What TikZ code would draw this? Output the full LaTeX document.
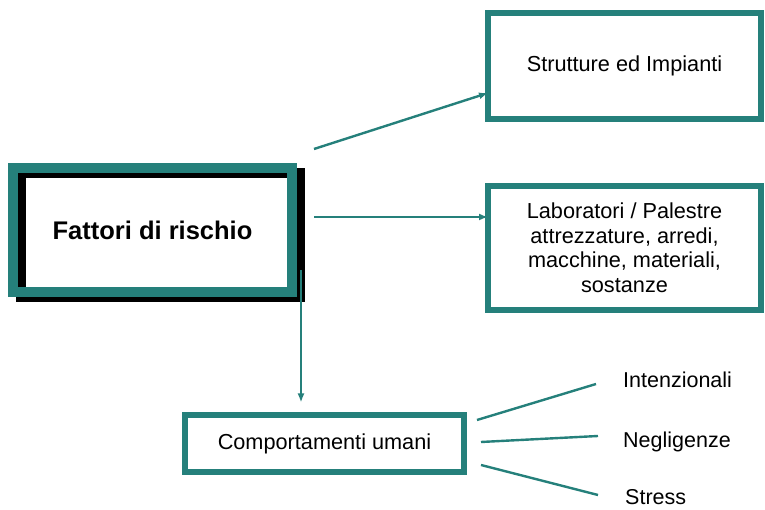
\documentclass[tikz,border=0pt]{standalone}
\usepackage{fontspec}
\setmainfont{Liberation Sans}
\usetikzlibrary{arrows.meta,positioning}
\definecolor{rischio}{RGB}{37,128,123}
\tikzset{
  box/.style={draw=rischio, line width=6pt, outer sep=0pt, inner sep=0pt,
    align=center, font=\fontsize{21.7}{24.5}\selectfont},
  label/.style={anchor=west, inner sep=0pt, font=\fontsize{21.5}{24}\selectfont},
  link/.style={rischio, line width=2.4pt},
  arrow/.style={link, -{Latex[length=9pt,width=7pt]}},
}
\begin{document}
\begin{tikzpicture}[x=1pt, y=1pt]
\useasboundingbox (0,0) rectangle (765,510);
%\draw[help lines, step=50] (0,0) grid (765,510);
\node [box, draw=none, minimum width=279pt, minimum height=124pt,
  font=\fontsize{25.5}{30}\selectfont\bfseries] (fattori) at (152.5,280) {Fattori di rischio};
\draw [line width=10pt] ([shift={(8,-5)}]fattori.north west)
  rectangle ([shift={(8,-5)}]fattori.south east);
\draw [rischio, line width=10pt] (fattori.north west) rectangle (fattori.south east);

\node [box, minimum width=273pt, minimum height=106pt] (strutture) at (624.5,444)
  {Strutture ed Impianti};
\node [box, minimum width=273pt, minimum height=124pt] (lab) at (624.5,262)
  {Laboratori / Palestre\\attrezzature, arredi,\\macchine, materiali,\\sostanze};
\node [box, minimum width=279pt, minimum height=57pt] (comport) at (324.5,66.5)
  {Comportamenti umani};

\node [label] (intenz) at (623,130) {Intenzionali};
\node [label] (neglig) at (623,68) {Negligenze};
\node [label] (stress) at (625,13) {Stress};

\coordinate (a1) at ([shift={(22,19)}]fattori.north east);
\coordinate (a2) at ([shift={(22,13)}]fattori.east);
\coordinate (a3) at ([shift={(9,22)}]fattori.south east);
\draw [arrow] (a1) -- ([yshift=-27pt]strutture.west);
\draw [arrow] (a2) -- (lab.west |- a2);
\draw [arrow, shorten >=12.5pt] (a3) -- (comport.north -| a3);

\draw [link] ([shift={(13,23.5)}]comport.east) -- ([shift={(-27,-4)}]intenz.west);
\draw [link] ([shift={(17,1.5)}]comport.east) -- ([shift={(-25,6)}]neglig.west);
\draw [link] ([shift={(17,-21.5)}]comport.east) -- ([shift={(-27,2)}]stress.west);
\end{tikzpicture}
\end{document}
